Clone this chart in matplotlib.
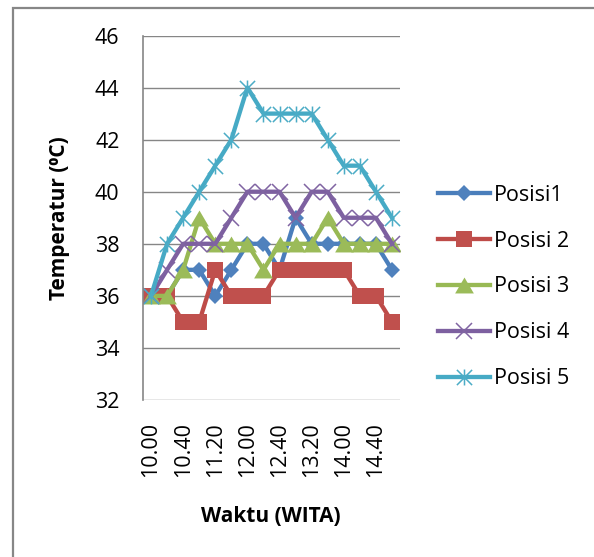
import numpy as np
import matplotlib.pyplot as plt
from matplotlib.path import Path
from matplotlib.patches import Rectangle

plt.rcParams['font.family'] = ['Open Sans', 'DejaVu Sans']

# data (every 20 minutes, 10.00 - 15.00)
waktu = ['10.00', '10.20', '10.40', '11.00', '11.20', '11.40', '12.00', '12.20',
         '12.40', '13.00', '13.20', '13.40', '14.00', '14.20', '14.40', '15.00']
posisi1 = [36, 36, 37, 37, 36, 37, 38, 38, 37, 39, 38, 38, 38, 38, 38, 37]
posisi2 = [36, 36, 35, 35, 37, 36, 36, 36, 37, 37, 37, 37, 37, 36, 36, 35]
posisi3 = [36, 36, 37, 39, 38, 38, 38, 37, 38, 38, 38, 39, 38, 38, 38, 38]
posisi4 = [36, 37, 38, 38, 38, 39, 40, 40, 40, 39, 40, 40, 39, 39, 39, 38]
posisi5 = [36, 38, 39, 40, 41, 42, 44, 43, 43, 43, 43, 42, 41, 41, 40, 39]
labels = ['Posisi1', 'Posisi 2', 'Posisi 3', 'Posisi 4', 'Posisi 5']

# excel style markers: a slightly flat triangle and an asterisk (x + vertical bar)
tri = Path([(0, 0.85), (-1, -0.85), (1, -0.85), (0, 0.85)],
           [Path.MOVETO, Path.LINETO, Path.LINETO, Path.CLOSEPOLY])
star = Path([(-1, -1), (1, 1), (-1, 1), (1, -1), (0, -1.05), (0, 1.05)],
            [Path.MOVETO, Path.LINETO] * 3)

styles = [
    dict(color='#4A7EBB', marker='D', ms=8.4, mfc='#4F81BD', mew=0),
    dict(color='#BE4B48', marker='s', ms=11.5, mfc='#C0504D', mew=0),
    dict(color='#98B954', marker=tri, ms=13.5, mfc='#9BBB59', mew=0),
    dict(color='#7D60A0', marker='x', ms=11.5, mec='#8064A2', mew=1.1),
    dict(color='#46AAC5', marker=star, ms=11.5, mfc='none', mec='#4BACC6', mew=1.1),
]

fig = plt.figure(figsize=(5.94, 5.57), dpi=100)
ax = fig.add_axes([143 / 594, 1 - 400 / 557, 257 / 594, 364.5 / 557])

x = np.arange(len(waktu))
for vals, lab, st in zip([posisi1, posisi2, posisi3, posisi4, posisi5], labels, styles):
    ax.plot(x, vals, lw=3.1, label=lab, solid_joinstyle='round', **st)

ax.set_xlim(-0.5, len(waktu) - 0.5)
ax.set_ylim(32, 46)
ax.set_yticks(np.arange(32, 47, 2))
ax.set_xticks(x[::2])
ax.set_xticklabels(waktu[::2], rotation=90, fontsize=15.5)
ax.tick_params(axis='y', length=0, pad=17, labelsize=15.5)
ax.tick_params(axis='x', length=0, pad=16)

ax.grid(axis='y', color='#868686', lw=1.0)
ax.set_axisbelow(True)
for s in ['top', 'right', 'bottom']:
    ax.spines[s].set_visible(False)
ax.spines['left'].set_color('#868686')
ax.spines['left'].set_linewidth(1.2)

ax.set_ylabel('Temperatur (\u2070C)', fontsize=15, fontweight='bold')
ax.yaxis.set_label_coords(-0.284, 0.5)
ax.set_xlabel('Waktu (WITA)', fontsize=15, fontweight='bold')
ax.xaxis.set_label_coords(0.498, -0.291)

fig.legend(loc='center left', bbox_to_anchor=(438 / 594, 1 - 287 / 557),
           frameon=False, fontsize=15.5, handlelength=2.42, handletextpad=0.19,
           labelspacing=1.16, borderpad=0, borderaxespad=0)

# chart area border (only left and top edges show in the crop)
fig.patches.append(Rectangle((13 / 594, -0.1), 1.2, 1.1 - 8 / 557,
                             transform=fig.transFigure, fill=False,
                             ec='#878787', lw=1.6))

fig.savefig('out.png', dpi=100)
